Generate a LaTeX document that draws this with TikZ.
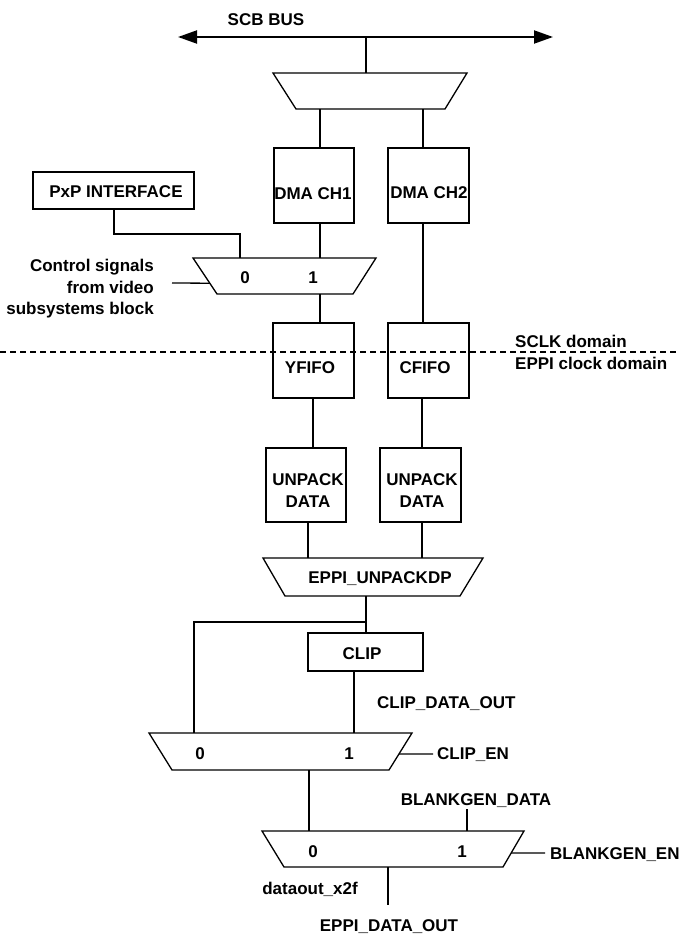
\documentclass[tikz,border=0pt]{standalone}
\usepackage{fontspec}
\setmainfont{Liberation Sans}
\usetikzlibrary{arrows.meta,calc}
\begin{document}
\begin{tikzpicture}[x=1pt,y=-1pt,
  wire/.style={line width=1.3pt},
  busline/.style={line width=2pt,{Triangle[length=19pt,width=13pt]}-{Triangle[length=19pt,width=13pt]}},
  box/.style={draw,line width=1.3pt,inner sep=0pt},
  lbl/.style={inner sep=0pt,text height=12.2pt,text depth=0pt,font=\fontsize{17}{21.5}\selectfont\bfseries},
  domline/.style={line width=1.1pt,dash pattern=on 6pt off 4pt}]
\useasboundingbox (0,0) rectangle (678,934);

% ---------------- bus
\coordinate (busL) at (178,37);
\coordinate (busR) at (553,37);
\coordinate (busT) at (366,37);
\draw[busline] (busL) -- (busR);
\node[lbl] (scb) at (266,19) {SCB BUS};

% ---------------- top mux
\coordinate (m1a) at (273,73); \coordinate (m1b) at (467,73);
\coordinate (m1c) at (445,109); \coordinate (m1d) at (296,109);
\draw[wire] (m1a) -- (m1b) -- (m1c) -- (m1d) -- cycle;
\coordinate (m1in) at (366,73);
\coordinate (m1o1) at (320,109);
\coordinate (m1o2) at (423,109);
\draw[wire] (busT) -- (m1in);

% ---------------- DMA boxes
\node[box,minimum width=80pt,minimum height=75pt] (dma1) at (314,185.5) {};
\node[lbl] (dma1t) at (313,193) {DMA CH1};
\node[box,minimum width=81pt,minimum height=75pt] (dma2) at (428.5,185.5) {};
\node[lbl] (dma2t) at (429,192) {DMA CH2};
\draw[wire] (m1o1) -- (m1o1 |- dma1.north);
\draw[wire] (m1o2) -- (m1o2 |- dma2.north);

% ---------------- PxP
\node[box,minimum width=161pt,minimum height=37pt] (pxp) at (113.5,190.5) {};
\node[lbl] (pxpt) at (116,191) {PxP INTERFACE};

% ---------------- mux 2
\coordinate (m2a) at (193,258); \coordinate (m2b) at (376,258);
\coordinate (m2c) at (353,294); \coordinate (m2d) at (217,294);
\draw[wire] (m2a) -- (m2b) -- (m2c) -- (m2d) -- cycle;
\coordinate (m2in0) at (240,258);
\coordinate (m2in1) at (320,258);
\coordinate (m2out) at (320,294);
\coordinate (m2sel) at ($(m2a)!0.7!(m2d)$);
\coordinate (ctlend) at (172,283);
\node[lbl] (m2l0) at (245,277) {0};
\node[lbl] (m2l1) at (313,277) {1};
\draw[wire] (pxp.south -| 114,0) -- (114,234) -- (m2in0 |- 0,234) -- (m2in0);
\draw[wire] (m2in1 |- dma1.south) -- (m2in1);
\draw[wire] (ctlend) -- (m2sel);
\node[lbl,anchor=east] (ctl1) at (154,265) {Control signals};
\node[lbl,anchor=east] (ctl2) at (154,287) {from video};
\node[lbl,anchor=east] (ctl3) at (154,308.5) {subsystems block};

% ---------------- FIFOs
\node[box,minimum width=81pt,minimum height=75pt] (yfifo) at (313.5,360.5) {};
\node[lbl] (yfifot) at (310,367) {YFIFO};
\node[box,minimum width=81pt,minimum height=75pt] (cfifo) at (428.5,360.5) {};
\node[lbl] (cfifot) at (425,367) {CFIFO};
\draw[wire] (m2out) -- (m2out |- yfifo.north);
\draw[wire] (m1o2 |- dma2.south) -- (m1o2 |- cfifo.north);

% ---------------- domain line
\coordinate (domL) at (0,352);
\coordinate (domR) at (678,352);
\draw[domline] (domL) -- (domR);
\node[lbl,anchor=west] (sclk) at (515,341) {SCLK domain};
\node[lbl,anchor=west] (eppiclk) at (515,363) {EPPI clock domain};

% ---------------- unpack boxes
\node[box,minimum width=80pt,minimum height=74pt] (unp1) at (306,485) {};
\node[lbl] (unp1a) at (308,479) {UNPACK};
\node[lbl] (unp1b) at (308,501) {DATA};
\node[box,minimum width=81pt,minimum height=74pt] (unp2) at (420.5,485) {};
\node[lbl] (unp2a) at (422,479) {UNPACK};
\node[lbl] (unp2b) at (422,501) {DATA};
\draw[wire] (313,0 |- yfifo.south) -- (313,0 |- unp1.north);
\draw[wire] (422,0 |- cfifo.south) -- (422,0 |- unp2.north);

% ---------------- EPPI_UNPACKDP
\coordinate (m3a) at (263,558); \coordinate (m3b) at (483,558);
\coordinate (m3c) at (460,596); \coordinate (m3d) at (285,596);
\draw[wire] (m3a) -- (m3b) -- (m3c) -- (m3d) -- cycle;
\node[lbl] (unpdp) at (380,577) {EPPI\_UNPACKDP};
\coordinate (m3in1) at (308,558);
\coordinate (m3in2) at (422,558);
\coordinate (m3out) at (366,596);
\draw[wire] (m3in1 |- unp1.south) -- (m3in1);
\draw[wire] (m3in2 |- unp2.south) -- (m3in2);

% ---------------- CLIP
\node[box,minimum width=115pt,minimum height=38pt] (clip) at (365.5,652) {};
\node[lbl] (clipt) at (362,653) {CLIP};
\coordinate (split) at (366,622);
\draw[wire] (m3out) -- (m3out |- clip.north);

% ---------------- mux clip
\coordinate (m4a) at (149,733); \coordinate (m4b) at (412,733);
\coordinate (m4c) at (389,770); \coordinate (m4d) at (172,770);
\draw[wire] (m4a) -- (m4b) -- (m4c) -- (m4d) -- cycle;
\coordinate (m4in0) at (194,733);
\coordinate (m4in1) at (354,733);
\coordinate (m4out) at (309,770);
\coordinate (m4sel) at ($(m4b)!0.57!(m4c)$);
\coordinate (clipenend) at (433,754);
\node[lbl] (m4l0) at (200,753) {0};
\node[lbl] (m4l1) at (349,753) {1};
\draw[wire] (split) -- (m4in0 |- split) -- (m4in0);
\draw[wire] (m4in1 |- clip.south) -- (m4in1);
\draw[wire] (m4sel) -- (clipenend);
\node[lbl,anchor=west] (clipdo) at (377,702) {CLIP\_DATA\_OUT};
\node[lbl,anchor=west] (clipen) at (437,753) {CLIP\_EN};

% ---------------- mux blankgen
\coordinate (m5a) at (262,831); \coordinate (m5b) at (524,831);
\coordinate (m5c) at (503,867); \coordinate (m5d) at (284,867);
\draw[wire] (m5a) -- (m5b) -- (m5c) -- (m5d) -- cycle;
\coordinate (m5in0) at (309,831);
\coordinate (m5in1) at (467,831);
\coordinate (m5out) at (388,867);
\coordinate (m5sel) at ($(m5b)!0.61!(m5c)$);
\coordinate (bgdend) at (467,809);
\coordinate (bgenend) at (545,853);
\coordinate (outend) at (388,905);
\node[lbl] (m5l0) at (313,851) {0};
\node[lbl] (m5l1) at (462,851) {1};
\draw[wire] (m4out) -- (m5in0);
\draw[wire] (bgdend) -- (m5in1);
\draw[wire] (m5sel) -- (bgenend);
\draw[wire] (m5out) -- (outend);
\node[lbl] (bgdata) at (476,799) {BLANKGEN\_DATA};
\node[lbl,anchor=west] (bgen) at (550,853) {BLANKGEN\_EN};
\node[lbl] (dx2f) at (310,888) {dataout\_x2f};
\node[lbl] (eppido) at (389,925) {EPPI\_DATA\_OUT};
\end{tikzpicture}
\end{document}
